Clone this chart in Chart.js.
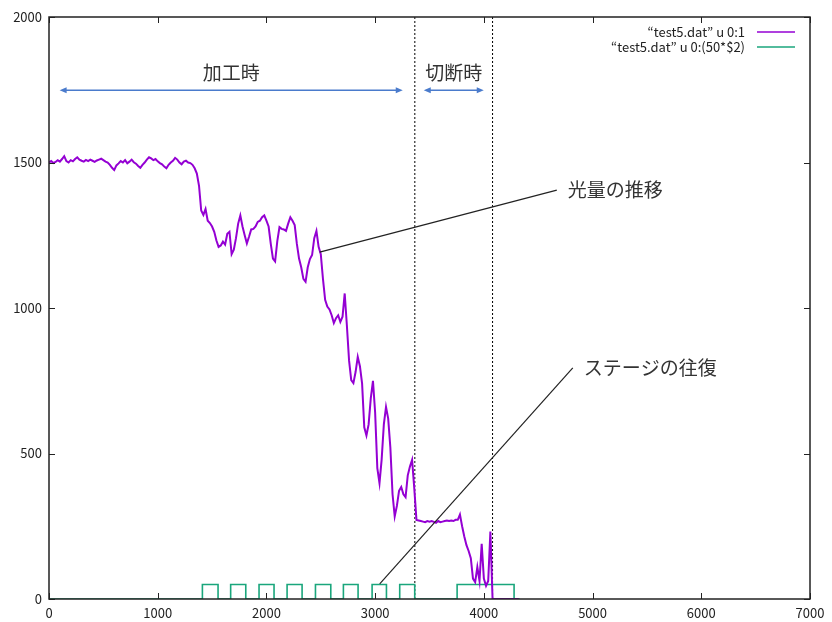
<!DOCTYPE html>
<html><head><meta charset="utf-8">
<script src="https://cdn.jsdelivr.net/npm/chart.js@4/dist/chart.umd.min.js"></script>
<style>html,body{margin:0;padding:0;background:#fff}#wrap{width:832px;height:622px;position:relative}</style>
</head><body><div id="wrap"><canvas id="c"></canvas></div>
<script>
// ---- data ----
const sampleStep = 20; // row spacing of the light samples (column 0)
const lightValues = [
1500,1505,1498,1502,1508,1503,1512,1522,1505,1500,
1508,1504,1512,1518,1510,1506,1503,1509,1505,1510,
1506,1502,1507,1510,1513,1508,1503,1500,1492,1482,
1474,1490,1497,1505,1500,1508,1497,1503,1510,1501,
1496,1488,1482,1492,1500,1510,1518,1514,1508,1512,
1504,1498,1494,1486,1480,1492,1500,1506,1516,1510,
1500,1494,1503,1506,1500,1498,1492,1480,1462,1420,
1335,1320,1340,1300,1292,1280,1262,1232,1210,1215,
1228,1218,1255,1262,1185,1200,1240,1290,1318,1280,
1250,1222,1245,1270,1272,1280,1296,1300,1312,1318,
1300,1280,1220,1170,1160,1230,1278,1272,1270,1265,
1290,1312,1300,1285,1220,1170,1140,1100,1090,1140,
1168,1182,1240,1265,1210,1185,1100,1028,1005,995,
975,948,965,975,952,970,1050,940,820,752,
742,780,832,800,740,590,562,600,690,750,
640,450,398,480,600,660,620,520,360,284,
320,372,385,360,350,425,455,478,380,272,
270,268,266,264,268,266,268,265,262,268,
264,266,268,270,268,270,268,272,272,290,
250,215,185,165,140,70,58,110,62,190,
70,45,62,232,0,0,0,0,0,0,
0,0,0,0,0,0,0
];
const stageEdges  = [0,1411,1555,1671,1810,1932,2070,2190,2328,2451,2592,2708,2843,2972,3104,3226,3364,3754,4278,4330];
const stageLevels = [0,1,0,1,0,1,0,1,0,1,0,1,0,1,0,1,0,1,0,0];
const stageScale = 50;
const cutLines = [3365, 4080];
const xTicks = [0,1000,2000,3000,4000,5000,6000,7000];
const yTicks = [0,500,1000,1500,2000];
const legendLabels = ['\u201Ctest5.dat\u201D u 0:1', '\u201Ctest5.dat\u201D u 0:(50*$2)'];
const spanLabels = ['加工時','切断時'];
const spanStarts = [98, 3447];
const spanEnds = [3254, 3999];
const spanLevel = 1748;
const calloutLabels = ['光量の推移','ステージの往復'];
const calloutFromX = [2490, 3042];
const calloutFromY = [1192, 52];
const calloutToX = [4671, 4818];
const calloutToY = [1405, 794];

// ---- build ----
const lightPts = lightValues.map((v,i)=>({x:i*sampleStep, y:v}));
const stagePts = stageEdges.map((x,i)=>({x:x, y:stageLevels[i]*stageScale}));
const PURPLE = '#9400d3', GREEN = '#1aa67c', BLUE = '#4a7bcc', INK = '#222';
const FONT = "'Noto Sans CJK JP', 'Noto Sans', sans-serif";

const datasets = [
  {label: legendLabels[0], data: lightPts, borderColor: PURPLE, borderWidth: 2, pointRadius: 0, tension: 0, order: 1},
  {label: legendLabels[1], data: stagePts, borderColor: GREEN, borderWidth: 1.6, pointRadius: 0, stepped: 'before', order: 2}
];
cutLines.forEach(c => datasets.push({label: '_cut', data: [{x:c,y:0},{x:c,y:2000}], borderColor: '#000', borderWidth: 1, borderDash: [2,2], pointRadius: 0, order: 3}));
calloutLabels.forEach((t,i) => datasets.push({label: '_callout', data: [{x:calloutFromX[i], y:calloutFromY[i]},{x:calloutToX[i], y:calloutToY[i]}], borderColor: '#222', borderWidth: 1.2, pointRadius: 0, order: 0}));

const decor = {
  id: 'decor',
  afterDraw(chart) {
    const ctx = chart.ctx, xs = chart.scales.x, ys = chart.scales.y, a = chart.chartArea;
    ctx.save();
    ctx.strokeStyle = INK; ctx.lineWidth = 1;
    xTicks.forEach(v => { const p = Math.round(xs.getPixelForValue(v))+0.5;
      ctx.beginPath(); ctx.moveTo(p, a.bottom); ctx.lineTo(p, a.bottom-6); ctx.moveTo(p, a.top); ctx.lineTo(p, a.top+6); ctx.stroke(); });
    yTicks.forEach(v => { const p = Math.round(ys.getPixelForValue(v))+0.5;
      ctx.beginPath(); ctx.moveTo(a.left, p); ctx.lineTo(a.left+6, p); ctx.moveTo(a.right, p); ctx.lineTo(a.right-6, p); ctx.stroke(); });
    ctx.lineWidth = 1.5; ctx.strokeStyle = INK;
    ctx.strokeRect(a.left, a.top, a.right-a.left, a.bottom-a.top);
    ctx.strokeStyle = BLUE; ctx.fillStyle = BLUE; ctx.lineWidth = 1.5;
    spanLabels.forEach((t,i) => {
      const x1 = xs.getPixelForValue(spanStarts[i]), x2 = xs.getPixelForValue(spanEnds[i]), y = ys.getPixelForValue(spanLevel);
      ctx.beginPath(); ctx.moveTo(x1+5, y); ctx.lineTo(x2-5, y); ctx.stroke();
      ctx.beginPath(); ctx.moveTo(x1, y); ctx.lineTo(x1+7, y-3); ctx.lineTo(x1+7, y+3); ctx.closePath(); ctx.fill();
      ctx.beginPath(); ctx.moveTo(x2, y); ctx.lineTo(x2-7, y-3); ctx.lineTo(x2-7, y+3); ctx.closePath(); ctx.fill();
      ctx.fillStyle = '#333'; ctx.font = '19px ' + FONT; ctx.textAlign = 'center'; ctx.textBaseline = 'middle';
      ctx.fillText(t, (x1+x2)/2, y-18);
      ctx.fillStyle = BLUE;
    });
    ctx.fillStyle = '#333'; ctx.font = '19px ' + FONT; ctx.textAlign = 'left'; ctx.textBaseline = 'middle';
    calloutLabels.forEach((t,i) => {
      ctx.fillText(t, xs.getPixelForValue(calloutToX[i]) + 11, ys.getPixelForValue(calloutToY[i]));
    });
    ctx.font = '13px ' + FONT; ctx.textAlign = 'right'; ctx.fillStyle = INK;
    const lx = a.right - 65, rowY = [a.top + 15, a.top + 30], cols = [PURPLE, GREEN];
    legendLabels.forEach((t,i) => {
      ctx.fillStyle = INK; ctx.fillText(t, lx, rowY[i]);
      ctx.strokeStyle = cols[i]; ctx.lineWidth = 1.6;
      ctx.beginPath(); ctx.moveTo(lx+12, rowY[i]); ctx.lineTo(lx+50, rowY[i]); ctx.stroke();
    });
    ctx.restore();
  }
};

new Chart(document.getElementById('c'), {
  type: 'line',
  data: {datasets},
  options: {
    responsive: true, maintainAspectRatio: false, animation: false,
    layout: {padding: {top: 17, right: 22, left: 0, bottom: 0}},
    plugins: {legend: {display: false}, tooltip: {enabled: false}},
    scales: {
      x: {type: 'linear', min: 0, max: 7000, grid: {display: false, drawTicks: false}, border: {display: false},
          afterFit: s => { s.height = 23; },
          afterBuildTicks: s => { s.ticks = xTicks.map(v => ({value: v})); },
          ticks: {padding: 6, color: INK, font: {family: FONT, size: 13}, autoSkip: false, maxRotation: 0, callback: v => String(v)}},
      y: {type: 'linear', min: 0, max: 2000, grid: {display: false, drawTicks: false}, border: {display: false},
          afterFit: s => { s.width = 49; },
          afterBuildTicks: s => { s.ticks = yTicks.map(v => ({value: v})); },
          ticks: {padding: 7, color: INK, font: {family: FONT, size: 13}, autoSkip: false, callback: v => String(v)}}
    }
  },
  plugins: [decor]
});
</script></body></html>
